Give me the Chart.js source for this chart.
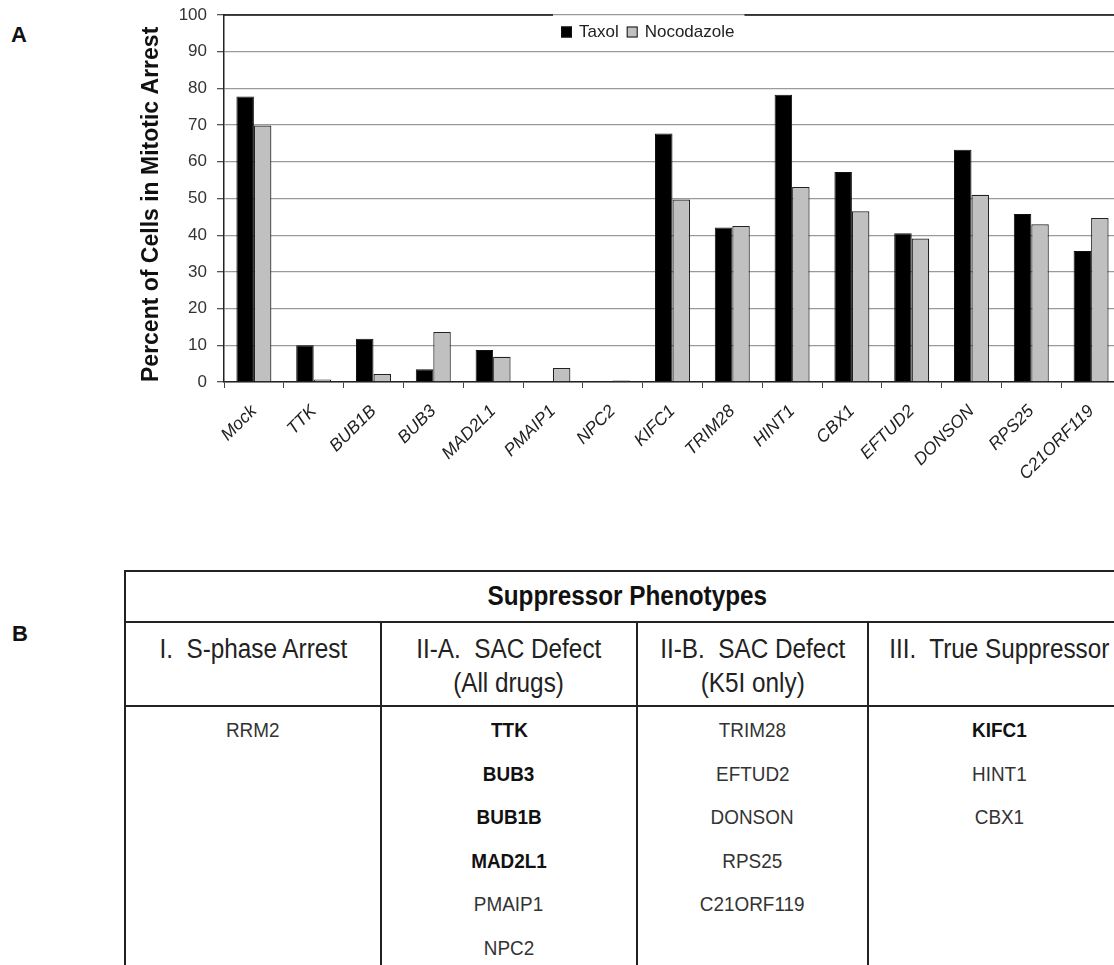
<!DOCTYPE html>
<html>
<head>
<meta charset="utf-8">
<title>Suppressor screen</title>
<script src="https://cdn.jsdelivr.net/npm/chart.js@4.4.1/dist/chart.umd.min.js"></script>
<style>
    html, body {
        margin: 0;
        padding: 0;
        background: #fff;
        overflow: hidden;
        width: 1114px;
        height: 965px;
        font-family: Arial, "Liberation Sans", sans-serif;
    }
    .panel-label {
        position: absolute;
        font-weight: bold;
        font-size: 22px;
        color: #111;
    }
    #chartWrap {
        position: absolute;
        left: 0;
        top: 0;
        width: 1140px;
        height: 500px;
    }
    #phenoTable {
        position: absolute;
        left: 124px;
        top: 570px;
        width: 1005px;
        border-collapse: collapse;
        table-layout: fixed;
        color: #222;
    }
    #phenoTable td {
        border: 2px solid #222;
        text-align: center;
        padding: 0;
    }
    #phenoTable .title {
        height: 49px;
        font-size: 27px;
        font-weight: bold;
        color: #111;
        vertical-align: middle;
    }
    #phenoTable .head td {
        height: 84px;
        font-size: 27px;
        line-height: 34px;
        vertical-align: top;
        padding-top: 9px;
        box-sizing: border-box;
    }
    #phenoTable .body td {
        height: 300px;
        font-size: 21px;
        line-height: 43.6px;
        vertical-align: top;
        padding-top: 1px;
        color: #333;
    }
    #phenoTable .body b {
        color: #111;
    }
    .sq {
        display: inline-block;
        transform: scaleX(0.9);
        white-space: pre;
    }
</style>
</head>
<body>
<div class="panel-label" style="left:11px; top:22px;">A</div>
<div class="panel-label" style="left:12px; top:621px;">B</div>

<div id="chartWrap">
    <canvas id="arrestChart" width="1140" height="500"></canvas>
</div>

<table id="phenoTable">
    <colgroup>
        <col style="width:256px">
        <col style="width:256px">
        <col style="width:231px">
        <col style="width:262px">
    </colgroup>
    <tr><td class="title" colspan="4"><span class="sq" id="tableTitle"></span></td></tr>
    <tr class="head" id="headRow"></tr>
    <tr class="body" id="bodyRow"></tr>
</table>

<script>
// Panel A data (percent of cells in mitotic arrest)
const genes = ['Mock', 'TTK', 'BUB1B', 'BUB3', 'MAD2L1', 'PMAIP1', 'NPC2', 'KIFC1',
    'TRIM28', 'HINT1', 'CBX1', 'EFTUD2', 'DONSON', 'RPS25', 'C21ORF119'];
const taxol = [77.8, 10.0, 11.8, 3.5, 8.7, 0, 0, 67.7, 42.1, 78.3, 57.2, 40.5, 63.3, 45.8, 35.7];
const nocodazole = [69.9, 0.7, 2.2, 13.6, 6.9, 3.8, 0.4, 49.7, 42.5, 53.1, 46.5, 39.1, 51.0, 43.0, 44.7];
const yTicks = [0, 10, 20, 30, 40, 50, 60, 70, 80, 90, 100];

// Panel B data
const tableTitle = 'Suppressor Phenotypes';
const phaseHeaders = [
    ['I.  S-phase Arrest'],
    ['II-A.  SAC Defect', '(All drugs)'],
    ['II-B.  SAC Defect', '(K5I only)'],
    ['III.  True Suppressor']
];
const phaseMembers = [
    ['RRM2'],
    ['TTK', 'BUB3', 'BUB1B', 'MAD2L1', 'PMAIP1', 'NPC2'],
    ['TRIM28', 'EFTUD2', 'DONSON', 'RPS25', 'C21ORF119'],
    ['KIFC1', 'HINT1', 'CBX1']
];
const boldMembers = ['TTK', 'BUB3', 'BUB1B', 'MAD2L1', 'KIFC1'];

const FONT = 'Arial, "Liberation Sans", sans-serif';

// build the table
document.getElementById('tableTitle').textContent = tableTitle;
const headRow = document.getElementById('headRow');
const bodyRow = document.getElementById('bodyRow');
phaseHeaders.forEach((lines, i) => {
    const th = document.createElement('td');
    lines.forEach(txt => {
        const d = document.createElement('div');
        const s = document.createElement('span');
        s.className = 'sq';
        s.textContent = txt;
        d.appendChild(s);
        th.appendChild(d);
    });
    headRow.appendChild(th);

    const td = document.createElement('td');
    phaseMembers[i].forEach(name => {
        const d = document.createElement('div');
        const s = document.createElement(boldMembers.includes(name) ? 'b' : 'span');
        s.className = 'sq';
        s.textContent = name;
        d.appendChild(s);
        td.appendChild(d);
    });
    bodyRow.appendChild(td);
});

// top frame line, broken where the legend sits, plus the legend itself
const frameLegend = {
    id: 'frameLegend',
    afterDraw(chart) {
        const ctx = chart.ctx;
        const area = chart.chartArea;
        const sets = chart.data.datasets;

        ctx.save();
        ctx.font = '17px ' + FONT;
        let x = area.left + 337;
        const startX = x;
        const midY = area.top + 17;
        const items = [];
        sets.forEach(ds => {
            items.push({ ds, x });
            x += 11 + 7 + ctx.measureText(ds.label).width + 8;
        });
        const endX = x - 8;

        // black frame on top of plot, gap around legend
        ctx.strokeStyle = '#111';
        ctx.lineWidth = 1.5;
        ctx.beginPath();
        ctx.moveTo(area.left, area.top);
        ctx.lineTo(startX - 8, area.top);
        ctx.moveTo(endX + 10, area.top);
        ctx.lineTo(area.right, area.top);
        ctx.stroke();

        items.forEach(it => {
            ctx.fillStyle = it.ds.backgroundColor;
            ctx.fillRect(it.x, midY - 5.5, 11, 11);
            ctx.strokeStyle = '#111';
            ctx.lineWidth = 1;
            ctx.strokeRect(it.x + 0.5, midY - 5, 10, 10);
            ctx.fillStyle = '#222';
            ctx.textBaseline = 'middle';
            ctx.textAlign = 'left';
            ctx.fillText(it.ds.label, it.x + 18, midY);
        });
        ctx.restore();
    }
};

document.addEventListener('DOMContentLoaded', function() {
    Chart.defaults.font.family = FONT;

    const ctx = document.getElementById('arrestChart').getContext('2d');
    new Chart(ctx, {
        type: 'bar',
        data: {
            labels: genes,
            datasets: [{
                label: 'Taxol',
                data: taxol,
                backgroundColor: '#000000',
                borderColor: '#111111',
                borderWidth: 1
            }, {
                label: 'Nocodazole',
                data: nocodazole,
                backgroundColor: '#c0c0c0',
                borderColor: '#222222',
                borderWidth: 1.2
            }]
        },
        options: {
            responsive: false,
            animation: false,
            layout: {
                padding: { left: 130, top: 15, right: 19, bottom: 0 }
            },
            datasets: {
                bar: {
                    categoryPercentage: 0.585,
                    barPercentage: 1.0
                }
            },
            plugins: {
                legend: { display: false },
                tooltip: { enabled: false }
            },
            scales: {
                x: {
                    grid: {
                        display: true,
                        drawOnChartArea: false,
                        offset: true,
                        tickLength: 6,
                        color: '#444'
                    },
                    border: { color: '#222', width: 1.5 },
                    ticks: {
                        autoSkip: false,
                        maxRotation: 45,
                        minRotation: 45,
                        padding: 13,
                        color: '#222',
                        font: { size: 17.5, style: 'italic' }
                    },
                    afterFit: function(scale) {
                        scale.height = 118;
                    }
                },
                y: {
                    min: 0,
                    max: 100,
                    afterBuildTicks: function(scale) {
                        scale.ticks = yTicks.map(v => ({ value: v }));
                    },
                    grid: {
                        color: '#9a9a9a',
                        lineWidth: 1.3,
                        tickLength: 7,
                        tickColor: '#555'
                    },
                    border: { color: '#222', width: 1.5 },
                    ticks: {
                        padding: 10,
                        color: '#333',
                        font: { size: 17 }
                    },
                    title: {
                        display: true,
                        text: 'Percent of Cells in Mitotic Arrest',
                        align: 'start',
                        color: '#111',
                        font: { size: 23, weight: 'bold' },
                        padding: { top: 8, bottom: 0 }
                    },
                    afterFit: function(scale) {
                        // fixed axis box, and let the layout padding set the plot top
                        scale.width = 94;
                        scale.paddingTop = 0;
                        scale.paddingBottom = 0;
                    }
                }
            }
        },
        plugins: [frameLegend]
    });
});
</script>
</body>
</html>
